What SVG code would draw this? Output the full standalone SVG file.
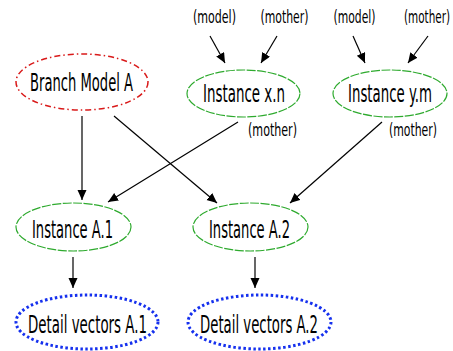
<svg xmlns="http://www.w3.org/2000/svg" width="453" height="351" viewBox="0 0 453 351">
<style>
text{font-family:"DejaVu Sans Condensed","DejaVu Sans",sans-serif;fill:#000;text-anchor:middle}
.t{font-size:25px}
.l{font-size:18px}
.red{fill:#fff;stroke:#d91a1a;stroke-width:1.5;stroke-dasharray:6 3 1.5 3}
.grn{fill:#fff;stroke:#2eaa2e;stroke-width:1.2;stroke-dasharray:9 1.5}
.blu{fill:#fff;stroke:#1530ee;stroke-width:3;stroke-dasharray:2.5 2.5}
.c line{stroke:#000;stroke-width:1.2;marker-end:url(#ah)}
</style>
<defs>
<marker id="ah" markerUnits="userSpaceOnUse" markerWidth="10" markerHeight="10" refX="10" refY="4.5" orient="auto">
<path d="M0,0 L10,4.5 L0,9 z" fill="#000"/>
</marker>
</defs>
<rect width="453" height="351" fill="#fff"/>
<g class="c" id="connectors">
<line x1="210" y1="36" x2="225" y2="63"/>
<line x1="277" y1="36" x2="261" y2="63"/>
<line x1="353" y1="36" x2="365" y2="63"/>
<line x1="428" y1="36" x2="408" y2="63"/>
<line x1="82" y1="116" x2="82" y2="200"/>
<line x1="114" y1="116" x2="217" y2="203"/>
<line x1="238" y1="122" x2="108" y2="202"/>
<line x1="382" y1="122" x2="290" y2="203"/>
<line x1="73" y1="257" x2="73" y2="288"/>
<line x1="255" y1="257" x2="255" y2="288"/>
</g>
<g id="labels">
<text class="l" x="214.5" y="23" textLength="43" lengthAdjust="spacingAndGlyphs">(model)</text>
<text class="l" x="284.5" y="23" textLength="48" lengthAdjust="spacingAndGlyphs">(mother)</text>
<text class="l" x="354.5" y="23" textLength="42" lengthAdjust="spacingAndGlyphs">(model)</text>
<text class="l" x="427" y="23" textLength="46" lengthAdjust="spacingAndGlyphs">(mother)</text>
<text class="l" x="272.5" y="135.5" textLength="49" lengthAdjust="spacingAndGlyphs">(mother)</text>
<text class="l" x="413" y="135.5" textLength="48" lengthAdjust="spacingAndGlyphs">(mother)</text>
</g>
<g id="branchA">
<ellipse class="red" cx="82" cy="82" rx="66" ry="28"/>
<text class="t" x="81.5" y="91" textLength="103" lengthAdjust="spacingAndGlyphs">Branch Model A</text>
</g>
<g id="instXn">
<ellipse class="grn" cx="243.5" cy="93.5" rx="56.5" ry="23.5"/>
<text class="t" x="244" y="102" textLength="82" lengthAdjust="spacingAndGlyphs">Instance x.n</text>
</g>
<g id="instYm">
<ellipse class="grn" cx="390" cy="93.5" rx="57" ry="23.5"/>
<text class="t" x="390" y="102" textLength="84" lengthAdjust="spacingAndGlyphs">Instance y.m</text>
</g>
<g id="instA1">
<ellipse class="grn" cx="73.5" cy="227" rx="57.5" ry="24"/>
<text class="t" x="72.5" y="238" textLength="81" lengthAdjust="spacingAndGlyphs">Instance A.1</text>
</g>
<g id="instA2">
<ellipse class="grn" cx="250.5" cy="227" rx="57.5" ry="24"/>
<text class="t" x="249.5" y="238" textLength="81" lengthAdjust="spacingAndGlyphs">Instance A.2</text>
</g>
<g id="detA1">
<ellipse class="blu" cx="87" cy="322" rx="71" ry="27"/>
<text class="t" x="87.5" y="333" textLength="119" lengthAdjust="spacingAndGlyphs">Detail vectors A.1</text>
</g>
<g id="detA2">
<ellipse class="blu" cx="259.5" cy="322" rx="71.5" ry="27"/>
<text class="t" x="259" y="333" textLength="118" lengthAdjust="spacingAndGlyphs">Detail vectors A.2</text>
</g>
</svg>
